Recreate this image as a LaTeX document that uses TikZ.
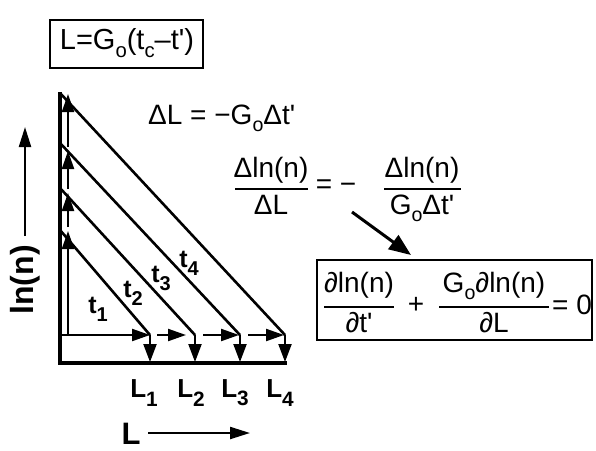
\documentclass[tikz,border=0pt]{standalone}
\usepackage{fontspec}
\setmainfont{Liberation Sans}
\usetikzlibrary{arrows.meta}
\newcommand\mysub[1]{\raisebox{-0.28em}{\scalebox{0.7}{#1}}}
\newcommand\bigsub[1]{\raisebox{-0.32em}{\scalebox{0.8}{#1}}}
\newcommand\pr{\textquotesingle}
\newcommand\fsz[1]{\fontsize{#1}{#1}\selectfont}
\tikzset{
  axisline/.style={line width=3.6pt},
  diagline/.style={line width=2.6pt},
  innerline/.style={line width=2.2pt},
  upar/.style={innerline,-{Triangle[length=18pt,width=12pt]}},
  rtar/.style={innerline,-{Triangle[length=18pt,width=12pt]}},
  dnar/.style={innerline,-{Triangle[length=18pt,width=13pt]}},
  eqtxt/.style={inner sep=0pt,font=\fsz{28}},
  lbl/.style={inner sep=0pt,font=\fsz{26}\bfseries},
  tlbl/.style={inner sep=0pt,font=\fsz{25}\bfseries},
  fbar/.style={line width=1.8pt},
  boxed/.style={draw,line width=2pt},
}
\begin{document}
\begin{tikzpicture}[x=1pt,y=-1pt]
\useasboundingbox (0,0) rectangle (596,450);
% top box
\draw[boxed] (50,20) rectangle (203,68);
\node[inner sep=0pt,font=\fsz{29}] (eqL) at (127,43) {L=G\mysub{o}(t\mysub{c}–t\pr)};
% coordinates
\coordinate (O) at (60,363);
\coordinate (Ytop) at (60,92);
\coordinate (Xend) at (287,363);
\coordinate (S1) at (60,230);
\coordinate (S2) at (60,188);
\coordinate (S3) at (60,143);
\coordinate (S4) at (60,93);
\coordinate (E0) at (60,335);
\coordinate (E1) at (150,335);
\coordinate (E2) at (195,335);
\coordinate (E3) at (240,335);
\coordinate (E4) at (285,335);
\coordinate (B1) at (150,362);
\coordinate (B2) at (195,362);
\coordinate (B3) at (240,362);
\coordinate (B4) at (285,362);
% axes
\draw[axisline] (Ytop) -- (O) -- (Xend);
% diagonals
\draw[diagline] (S1) -- (E1);
\draw[diagline] (S2) -- (E2);
\draw[diagline] (S3) -- (E3);
\draw[diagline] (S4) -- (E4);
% inner vertical arrows
\coordinate (V0) at (68,335);
\coordinate (V1) at (68,231);
\coordinate (V1b) at (68,227);
\coordinate (V2) at (68,193);
\coordinate (V2b) at (68,189);
\coordinate (V3) at (68,151);
\coordinate (V3b) at (68,147);
\coordinate (V4) at (68,94);
\draw[upar] (V0) -- (V1);
\draw[upar] (V1b) -- (V2);
\draw[upar] (V2b) -- (V3);
\draw[upar] (V3b) -- (V4);
% inner horizontal arrows
\coordinate (H2) at (157,335);
\coordinate (H2e) at (186,335);
\coordinate (H3) at (203,335);
\coordinate (H3e) at (239,335);
\coordinate (H4) at (248,335);
\coordinate (H4e) at (284,335);
\draw[rtar] (E0) -- (E1);
\draw[rtar] (H2) -- (H2e);
\draw[rtar] (H3) -- (H3e);
\draw[rtar] (H4) -- (H4e);
% down arrows
\draw[dnar] (E1) -- (B1);
\draw[dnar] (E2) -- (B2);
\draw[dnar] (E3) -- (B3);
\draw[dnar] (E4) -- (B4);
% t labels
\node[tlbl] (t1) at (98,309) {t\bigsub{1}};
\node[tlbl] (t2) at (133,293) {t\bigsub{2}};
\node[tlbl] (t3) at (161,278) {t\bigsub{3}};
\node[tlbl] (t4) at (189,263) {t\bigsub{4}};
% L labels
\node[lbl] (L1) at (144,393) {L\bigsub{1}};
\node[lbl] (L2) at (191,393) {L\bigsub{2}};
\node[lbl] (L3) at (235,393) {L\bigsub{3}};
\node[lbl] (L4) at (280,393) {L\bigsub{4}};
% axis labels
\node[inner sep=0pt,font=\fsz{31}\bfseries] (Lax) at (131,434) {L};
\coordinate (La) at (148,433);
\coordinate (Lb) at (250,433);
\draw[innerline,-{Triangle[length=20pt,width=12pt]}] (La) -- (Lb);
\node[inner sep=0pt,font=\fsz{32}\bfseries,rotate=90] (lnn) at (25,280) {ln(n)};
\coordinate (Ya) at (25,236);
\coordinate (Yb) at (25,127);
\draw[innerline,-{Triangle[length=20pt,width=12pt]}] (Ya) -- (Yb);
% Delta L equation
\node[eqtxt,anchor=base west] (dL) at (148,124) {ΔL = −G\mysub{o}Δt\pr};
% fraction equation
\node[eqtxt,anchor=base] (n1) at (271,177) {Δln(n)};
\draw[fbar] (235,189) -- (308,189);
\node[eqtxt,anchor=base] (d1) at (271,214) {ΔL};
\node[eqtxt] (eqm) at (336,187) {= −};
\node[eqtxt,anchor=base] (n2) at (422,177) {Δln(n)};
\draw[fbar] (384,189) -- (461,189);
\node[eqtxt,anchor=base] (d2) at (422,214) {G\mysub{o}Δt\pr};
% arrow
\coordinate (Aa) at (352,212);
\coordinate (Ab) at (411,255);
\draw[line width=3pt,-{Triangle[length=22pt,width=17pt]}] (Aa) -- (Ab);
% bottom box
\draw[boxed] (317,260) rectangle (592,340);
\node[eqtxt,anchor=base] (pn1) at (359,292) {∂ln(n)};
\draw[fbar] (324,307) -- (394,307);
\node[eqtxt,anchor=base] (pd1) at (359,332) {∂t\pr};
\node[eqtxt] (plus) at (416,305) {+};
\node[eqtxt,anchor=base] (pn2) at (494,292) {G\mysub{o}∂ln(n)};
\draw[fbar] (439,307) -- (549,307);
\node[eqtxt,anchor=base] (pd2) at (494,332) {∂L};
\node[eqtxt,anchor=west] (eq0) at (552,305) {= 0};
\end{tikzpicture}
\end{document}
